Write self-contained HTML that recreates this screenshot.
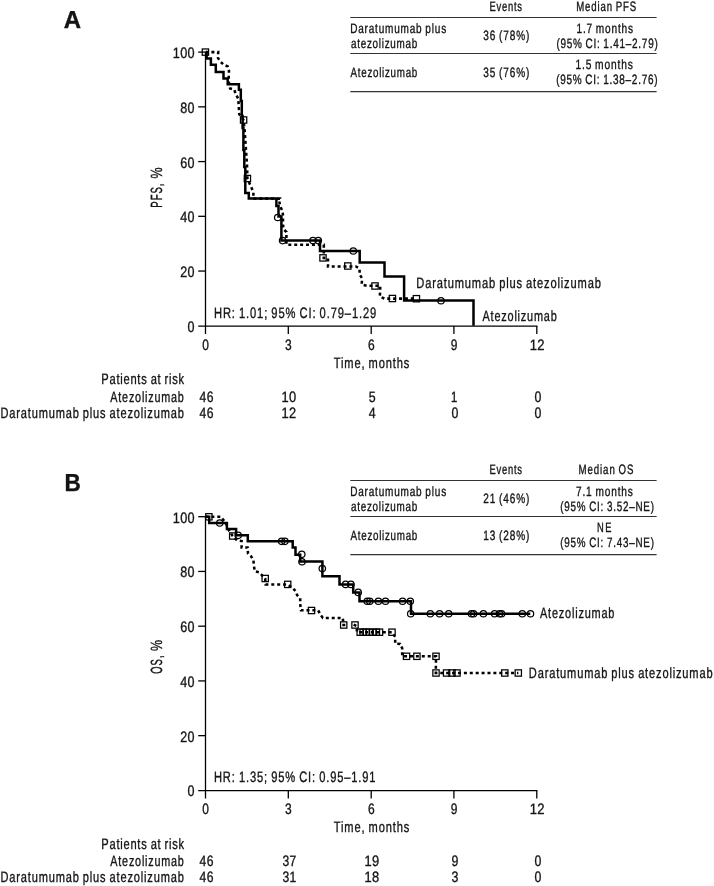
<!DOCTYPE html>
<html lang="en"><head><meta charset="utf-8"><title>Kaplan-Meier PFS and OS</title>
<style>html,body{margin:0;padding:0;background:#fff}svg{display:block}</style>
</head><body>
<svg width="714" height="886" viewBox="0 0 714 886">
<rect width="714" height="886" fill="#fff"/>
<g fill="none" stroke="#000" stroke-width="1.3"><path d="M205.5,51.90 V333.95 M198.2,326.05 H537.4" /><path d="M198.2,52.10 H205.5" /><path d="M198.2,106.84 H205.5" /><path d="M198.2,161.58 H205.5" /><path d="M198.2,216.32 H205.5" /><path d="M198.2,271.06 H205.5" /><path d="M288.30,326.05 V333.95" /><path d="M371.20,326.05 V333.95" /><path d="M453.90,326.05 V333.95" /><path d="M536.80,326.05 V333.95" /></g>
<g fill="none" stroke="#000" stroke-width="1.3"><path d="M205.5,516.50 V798.55 M198.2,790.65 H537.4" /><path d="M198.2,516.70 H205.5" /><path d="M198.2,571.44 H205.5" /><path d="M198.2,626.18 H205.5" /><path d="M198.2,680.92 H205.5" /><path d="M198.2,735.66 H205.5" /><path d="M288.30,790.65 V798.55" /><path d="M371.20,790.65 V798.55" /><path d="M453.90,790.65 V798.55" /><path d="M536.80,790.65 V798.55" /></g>
<g stroke="#333" stroke-width="1.05"><path d="M350.3,17.50 H656.6 M350.3,53.50 H656.6 M350.3,91.60 H656.6"/></g>
<g stroke="#333" stroke-width="1.05"><path d="M350.3,480.50 H656.6 M350.3,516.50 H656.6 M350.3,554.60 H656.6"/></g>
<path d="M205.5,52.1 L218.2,52.1 L218.0,58.0 L220.3,61.5 L223.5,64.6 L227.7,66.4 L229.0,71.0 L228.7,77.2 L229.0,84.0 L230.1,88.4 L234.3,89.8 L235.7,94.0 L238.2,98.6 L238.6,103.8 L238.9,108.7 L239.3,114.3 L243.5,120.0 L244.6,130.0 L246.0,150.0 L247.0,165.0 L247.4,178.5 L251.6,188.1 L253.4,192.0 L253.4,198.6 L280.0,198.6 L279.5,203.2 L280.9,207.8 L282.7,211.6 L283.0,217.6 L283.0,223.5 L283.4,229.1 L286.5,232.0 L286.4,238.0 L286.4,244.8 L323.8,244.8 L323.8,258.0 L328.0,258.2 L328.0,266.5 L355.8,266.5 L359.6,268.6 L359.6,274.5 L362.1,278.3 L361.7,284.6 L366.7,285.8 L380.2,285.7 L380.2,290.8 L379.8,296.6 L384.5,298.6 L416.4,298.6" fill="none" stroke="#000" stroke-width="2.55" stroke-dasharray="3 2.9" stroke-linejoin="miter"/><path d="M206.6,52.1 L206.6,58.6 L210.9,58.6 L210.9,64.7 L215.8,64.7 L215.8,72.0 L223.5,72.0 L223.5,78.6 L227.7,78.6 L227.7,84.2 L238.9,84.2 L238.9,89.8 L240.8,89.8 L240.8,101.0 L241.8,101.0 L241.8,116.0 L242.6,116.0 L242.6,128.0 L243.4,128.0 L243.4,150.0 L244.3,150.0 L244.3,167.0 L245.3,167.0 L245.3,193.0 L248.8,193.0 L248.8,198.6 L276.4,198.6 L276.4,206.0 L278.5,206.0 L278.5,216.5 L281.4,216.5 L281.4,240.6 L320.0,240.6 L320.0,251.0 L359.7,251.0 L359.7,262.6 L384.5,262.6 L384.5,276.5 L404.1,276.5 L404.1,300.5 L473.5,300.5 L473.5,325.8" fill="none" stroke="#000" stroke-width="2.5" stroke-linejoin="miter"/><g fill="none" stroke="#000" stroke-width="1.25"><circle cx="277.7" cy="217.5" r="3.2"/><circle cx="282.6" cy="240.6" r="3.2"/><circle cx="312.9" cy="240.6" r="3.2"/><circle cx="318.3" cy="240.6" r="3.2"/><circle cx="353.3" cy="251.0" r="3.2"/><circle cx="441.0" cy="300.7" r="3.2"/><rect x="202.25" y="48.95" width="6.3" height="6.3"/><rect x="240.45" y="116.85" width="6.3" height="6.3"/><rect x="244.25" y="175.35" width="6.3" height="6.3"/><rect x="319.85" y="254.75" width="6.3" height="6.3"/><rect x="344.65" y="262.85" width="6.3" height="6.3"/><rect x="371.85" y="282.85" width="6.3" height="6.3"/><rect x="389.25" y="295.35" width="6.3" height="6.3"/><rect x="413.25" y="295.55" width="6.3" height="6.3"/></g>
<path d="M205.5,516.7 L221.0,516.7 L223.0,519.5 L226.0,523.0 L228.0,529.0 L232.7,536.0 L237.0,540.3 L241.6,541.1 L241.6,547.4 L247.6,547.4 L248.0,553.5 L250.9,556.0 L253.4,560.3 L253.9,565.3 L254.7,571.2 L259.3,572.4 L265.2,578.5 L265.6,584.4 L287.7,584.4 L292.6,588.0 L295.5,591.0 L297.2,595.2 L300.2,598.1 L300.2,604.0 L301.0,610.3 L318.2,610.3 L320.3,614.5 L322.9,617.9 L342.7,617.9 L343.2,621.5 M342.3,625.0 L345.4,625.0 M353.6,624.6 L356.7,626.0 L357.0,632.2 L392.0,632.2 L395.2,637.0 L395.2,643.6 L400.2,643.9 L402.2,648.3 L402.2,656.3 L436.0,656.3 L435.8,673.0 L518.3,673.0" fill="none" stroke="#000" stroke-width="2.55" stroke-dasharray="3 2.9" stroke-linejoin="miter"/><path d="M205.5,516.7 L209.2,516.7 L209.2,523.0 L226.9,523.0 L226.9,529.0 L236.1,529.0 L236.1,535.2 L247.8,535.2 L247.8,541.3 L292.7,541.3 L292.7,547.6 L295.5,547.6 L295.5,554.7 L300.2,554.7 L300.2,561.5 L322.4,561.5 L322.4,576.3 L339.5,576.3 L339.5,584.4 L353.2,584.4 L353.2,592.4 L359.5,592.4 L359.5,601.2 L411.0,601.2 L411.0,613.7 L530.3,613.7" fill="none" stroke="#000" stroke-width="2.5" stroke-linejoin="miter"/><g fill="none" stroke="#000" stroke-width="1.25"><circle cx="219.7" cy="523.0" r="3.2"/><circle cx="238.2" cy="535.3" r="3.2"/><circle cx="281.6" cy="541.3" r="3.2"/><circle cx="284.9" cy="541.3" r="3.2"/><circle cx="301.8" cy="554.3" r="3.2"/><circle cx="302.0" cy="561.7" r="3.2"/><circle cx="322.3" cy="568.6" r="3.2"/><circle cx="345.6" cy="584.4" r="3.2"/><circle cx="350.9" cy="584.4" r="3.2"/><circle cx="358.2" cy="592.4" r="3.2"/><circle cx="367.2" cy="601.2" r="3.2"/><circle cx="369.8" cy="601.2" r="3.2"/><circle cx="378.4" cy="601.2" r="3.2"/><circle cx="385.5" cy="601.2" r="3.2"/><circle cx="402.6" cy="601.2" r="3.2"/><circle cx="410.3" cy="601.2" r="3.2"/><circle cx="410.7" cy="613.7" r="3.2"/><circle cx="430.3" cy="613.7" r="3.2"/><circle cx="439.6" cy="613.7" r="3.2"/><circle cx="448.7" cy="613.7" r="3.2"/><circle cx="471.5" cy="613.7" r="3.2"/><circle cx="473.6" cy="613.7" r="3.2"/><circle cx="483.4" cy="613.7" r="3.2"/><circle cx="494.6" cy="613.7" r="3.2"/><circle cx="499.5" cy="613.7" r="3.2"/><circle cx="501.6" cy="613.7" r="3.2"/><circle cx="522.3" cy="613.7" r="3.2"/><circle cx="530.5" cy="613.7" r="3.2"/><rect x="205.75" y="513.65" width="6.3" height="6.3"/><rect x="229.55" y="532.85" width="6.3" height="6.3"/><rect x="262.05" y="575.35" width="6.3" height="6.3"/><rect x="284.55" y="581.25" width="6.3" height="6.3"/><rect x="308.35" y="607.35" width="6.3" height="6.3"/><rect x="340.55" y="621.85" width="6.3" height="6.3"/><rect x="351.85" y="621.85" width="6.3" height="6.3"/><rect x="357.05" y="629.05" width="6.3" height="6.3"/><rect x="359.95" y="629.05" width="6.3" height="6.3"/><rect x="362.85" y="629.05" width="6.3" height="6.3"/><rect x="366.15" y="629.05" width="6.3" height="6.3"/><rect x="369.65" y="629.05" width="6.3" height="6.3"/><rect x="373.25" y="629.05" width="6.3" height="6.3"/><rect x="376.35" y="629.05" width="6.3" height="6.3"/><rect x="388.85" y="629.05" width="6.3" height="6.3"/><rect x="403.35" y="653.15" width="6.3" height="6.3"/><rect x="413.75" y="653.15" width="6.3" height="6.3"/><rect x="432.85" y="653.15" width="6.3" height="6.3"/><rect x="432.85" y="669.85" width="6.3" height="6.3"/><rect x="443.45" y="669.85" width="6.3" height="6.3"/><rect x="448.85" y="669.85" width="6.3" height="6.3"/><rect x="453.85" y="669.85" width="6.3" height="6.3"/><rect x="501.65" y="669.85" width="6.3" height="6.3"/><rect x="515.15" y="669.85" width="6.3" height="6.3"/></g>
<g font-family='"Liberation Sans", Arial, Helvetica, sans-serif' fill="#141414" stroke="#141414" stroke-width="0.36" text-rendering="geometricPrecision">
<text transform="translate(63.80,28.10) scale(0.9722,1)" font-size="24.6" font-weight="bold">A</text>
<text transform="translate(64.48,491.10) scale(0.9187,1)" font-size="24.6" font-weight="bold">B</text>
<text transform="translate(172.75,58.10) scale(0.8478,1)" font-size="15.0" letter-spacing="0.366">100</text>
<text transform="translate(180.20,112.84) scale(0.8369,1)" font-size="15.0" letter-spacing="0.505">80</text>
<text transform="translate(180.20,167.58) scale(0.8369,1)" font-size="15.0" letter-spacing="0.505">60</text>
<text transform="translate(180.20,222.32) scale(0.8369,1)" font-size="15.0" letter-spacing="0.505">40</text>
<text transform="translate(180.20,277.06) scale(0.8369,1)" font-size="15.0" letter-spacing="0.505">20</text>
<text transform="translate(187.60,331.80) scale(0.8375,1)" font-size="15.0">0</text>
<text transform="translate(172.75,522.70) scale(0.8478,1)" font-size="15.0" letter-spacing="0.366">100</text>
<text transform="translate(180.20,577.44) scale(0.8369,1)" font-size="15.0" letter-spacing="0.505">80</text>
<text transform="translate(180.20,632.18) scale(0.8369,1)" font-size="15.0" letter-spacing="0.505">60</text>
<text transform="translate(180.20,686.92) scale(0.8369,1)" font-size="15.0" letter-spacing="0.505">40</text>
<text transform="translate(180.20,741.66) scale(0.8369,1)" font-size="15.0" letter-spacing="0.505">20</text>
<text transform="translate(187.60,796.40) scale(0.8375,1)" font-size="15.0">0</text>
<text transform="translate(202.30,349.80) scale(0.8000,1)" font-size="15.0">0</text>
<text transform="translate(285.10,349.80) scale(0.8000,1)" font-size="15.0">3</text>
<text transform="translate(368.00,349.80) scale(0.8000,1)" font-size="15.0">6</text>
<text transform="translate(450.70,349.80) scale(0.8000,1)" font-size="15.0">9</text>
<text transform="translate(529.63,349.80) scale(0.8725,1)" font-size="15.0" letter-spacing="0.475">12</text>
<text transform="translate(333.70,367.60) scale(0.7379,1)" font-size="15.0" letter-spacing="1.212" word-spacing="-1.091">Time, months</text>
<text transform="translate(202.30,814.40) scale(0.8000,1)" font-size="15.0">0</text>
<text transform="translate(285.10,814.40) scale(0.8000,1)" font-size="15.0">3</text>
<text transform="translate(368.00,814.40) scale(0.8000,1)" font-size="15.0">6</text>
<text transform="translate(450.70,814.40) scale(0.8000,1)" font-size="15.0">9</text>
<text transform="translate(529.63,814.40) scale(0.8725,1)" font-size="15.0" letter-spacing="0.475">12</text>
<text transform="translate(333.70,832.20) scale(0.7379,1)" font-size="15.0" letter-spacing="1.212" word-spacing="-1.091">Time, months</text>
<text transform="translate(161.80,207.10) rotate(-90) scale(0.5946,1)" x="-1.00" y="0" font-size="16.2" letter-spacing="1.567">PFS,</text>
<text transform="translate(161.80,207.10) rotate(-90) scale(0.7714,1)" x="37.07" y="0" font-size="16.2">%</text>
<text transform="translate(161.80,673.80) rotate(-90) scale(0.5784,1)" x="0.00" y="0" font-size="16.2" letter-spacing="1.867">OS,</text>
<text transform="translate(161.80,673.80) rotate(-90) scale(0.7714,1)" x="29.43" y="0" font-size="16.2">%</text>
<text transform="translate(213.95,317.60) scale(0.7453,1)" font-size="15.0" letter-spacing="1.159" word-spacing="-1.043">HR: 1.01; 95% CI: 0.79–1.29</text>
<text transform="translate(213.96,782.10) scale(0.7421,1)" font-size="15.0" letter-spacing="1.159" word-spacing="-1.043">HR: 1.35; 95% CI: 0.95–1.91</text>
<text transform="translate(416.26,288.10) scale(0.7414,1)" font-size="15.0" letter-spacing="1.134" word-spacing="-1.021">Daratumumab plus atezolizumab</text>
<text transform="translate(482.50,321.00) scale(0.7260,1)" font-size="15.0" letter-spacing="1.112">Atezolizumab</text>
<text transform="translate(540.00,617.80) scale(0.7279,1)" font-size="15.0" letter-spacing="1.112">Atezolizumab</text>
<text transform="translate(528.86,678.40) scale(0.7377,1)" font-size="15.0" letter-spacing="1.134" word-spacing="-1.021">Daratumumab plus atezolizumab</text>
<text transform="translate(101.36,384.20) scale(0.7409,1)" font-size="15.0" letter-spacing="1.011" word-spacing="-0.910">Patients at risk</text>
<text transform="translate(110.30,401.50) scale(0.7191,1)" font-size="15.0" letter-spacing="1.112">Atezolizumab</text>
<text transform="translate(0.56,417.80) scale(0.7361,1)" font-size="15.0" letter-spacing="1.134" word-spacing="-1.021">Daratumumab plus atezolizumab</text>
<text transform="translate(101.36,848.80) scale(0.7409,1)" font-size="15.0" letter-spacing="1.011" word-spacing="-0.910">Patients at risk</text>
<text transform="translate(110.30,866.10) scale(0.7191,1)" font-size="15.0" letter-spacing="1.112">Atezolizumab</text>
<text transform="translate(0.56,882.40) scale(0.7361,1)" font-size="15.0" letter-spacing="1.134" word-spacing="-1.021">Daratumumab plus atezolizumab</text>
<text transform="translate(199.60,401.50) scale(0.8072,1)" font-size="15.0" letter-spacing="0.505">46</text>
<text transform="translate(281.54,401.50) scale(0.8598,1)" font-size="15.0" letter-spacing="0.475">10</text>
<text transform="translate(368.80,401.50) scale(0.8250,1)" font-size="15.0">5</text>
<text transform="translate(450.89,401.50) scale(0.7571,1)" font-size="15.0">1</text>
<text transform="translate(534.40,401.50) scale(0.8250,1)" font-size="15.0">0</text>
<text transform="translate(199.60,417.80) scale(0.8072,1)" font-size="15.0" letter-spacing="0.505">46</text>
<text transform="translate(281.54,417.80) scale(0.8598,1)" font-size="15.0" letter-spacing="0.475">12</text>
<text transform="translate(368.80,417.80) scale(0.8250,1)" font-size="15.0">4</text>
<text transform="translate(451.50,417.80) scale(0.8250,1)" font-size="15.0">0</text>
<text transform="translate(534.40,417.80) scale(0.8250,1)" font-size="15.0">0</text>
<text transform="translate(199.60,866.10) scale(0.8072,1)" font-size="15.0" letter-spacing="0.505">46</text>
<text transform="translate(282.40,866.10) scale(0.8072,1)" font-size="15.0" letter-spacing="0.505">37</text>
<text transform="translate(364.44,866.10) scale(0.8598,1)" font-size="15.0" letter-spacing="0.475">19</text>
<text transform="translate(451.50,866.10) scale(0.8250,1)" font-size="15.0">9</text>
<text transform="translate(534.40,866.10) scale(0.8250,1)" font-size="15.0">0</text>
<text transform="translate(199.60,882.40) scale(0.8072,1)" font-size="15.0" letter-spacing="0.505">46</text>
<text transform="translate(282.40,882.40) scale(0.8072,1)" font-size="15.0" letter-spacing="0.505">31</text>
<text transform="translate(364.44,882.40) scale(0.8598,1)" font-size="15.0" letter-spacing="0.475">18</text>
<text transform="translate(451.50,882.40) scale(0.8250,1)" font-size="15.0">3</text>
<text transform="translate(534.40,882.40) scale(0.8250,1)" font-size="15.0">0</text>
<text transform="translate(489.51,11.30) scale(0.6909,1)" font-size="13.6" letter-spacing="1.112">Events</text>
<text transform="translate(576.19,11.30) scale(0.7066,1)" font-size="13.6" letter-spacing="1.241" word-spacing="-1.117">Median PFS</text>
<text transform="translate(350.16,32.70) scale(0.7361,1)" font-size="13.6" letter-spacing="1.103" word-spacing="-0.993">Daratumumab plus</text>
<text transform="translate(351.00,47.80) scale(0.7280,1)" font-size="13.6" letter-spacing="0.986">atezolizumab</text>
<text transform="translate(483.20,40.30) scale(0.7377,1)" font-size="13.6" letter-spacing="1.221" word-spacing="-1.099">36 (78%)</text>
<text transform="translate(576.46,32.70) scale(0.7416,1)" font-size="13.6" letter-spacing="1.119" word-spacing="-1.007">1.7 months</text>
<text transform="translate(556.40,47.60) scale(0.7337,1)" font-size="13.6" letter-spacing="1.020" word-spacing="-0.918">(95% CI: 1.41–2.79)</text>
<text transform="translate(350.50,76.90) scale(0.7210,1)" font-size="13.6" letter-spacing="1.005">Atezolizumab</text>
<text transform="translate(483.20,77.10) scale(0.7377,1)" font-size="13.6" letter-spacing="1.221" word-spacing="-1.099">35 (76%)</text>
<text transform="translate(575.45,69.10) scale(0.7521,1)" font-size="13.6" letter-spacing="1.119" word-spacing="-1.007">1.5 months</text>
<text transform="translate(556.20,83.80) scale(0.7337,1)" font-size="13.6" letter-spacing="1.020" word-spacing="-0.918">(95% CI: 1.38–2.76)</text>
<text transform="translate(489.51,474.30) scale(0.6909,1)" font-size="13.6" letter-spacing="1.112">Events</text>
<text transform="translate(578.49,474.30) scale(0.7113,1)" font-size="13.6" letter-spacing="1.286" word-spacing="-1.157">Median OS</text>
<text transform="translate(350.16,495.70) scale(0.7361,1)" font-size="13.6" letter-spacing="1.103" word-spacing="-0.993">Daratumumab plus</text>
<text transform="translate(351.00,510.80) scale(0.7280,1)" font-size="13.6" letter-spacing="0.986">atezolizumab</text>
<text transform="translate(483.20,503.30) scale(0.7377,1)" font-size="13.6" letter-spacing="1.221" word-spacing="-1.099">21 (46%)</text>
<text transform="translate(576.00,495.70) scale(0.7436,1)" font-size="13.6" letter-spacing="1.136" word-spacing="-1.022">7.1 months</text>
<text transform="translate(560.20,510.60) scale(0.7238,1)" font-size="13.6" letter-spacing="1.091" word-spacing="-0.981">(95% CI: 3.52–NE)</text>
<text transform="translate(350.50,539.90) scale(0.7210,1)" font-size="13.6" letter-spacing="1.005">Atezolizumab</text>
<text transform="translate(483.26,540.10) scale(0.7384,1)" font-size="13.6" letter-spacing="1.199" word-spacing="-1.079">13 (28%)</text>
<text transform="translate(596.91,532.10) scale(0.6865,1)" font-size="13.6" letter-spacing="2.430">NE</text>
<text transform="translate(560.20,546.80) scale(0.7238,1)" font-size="13.6" letter-spacing="1.091" word-spacing="-0.981">(95% CI: 7.43–NE)</text>
</g>
</svg>
</body></html>
